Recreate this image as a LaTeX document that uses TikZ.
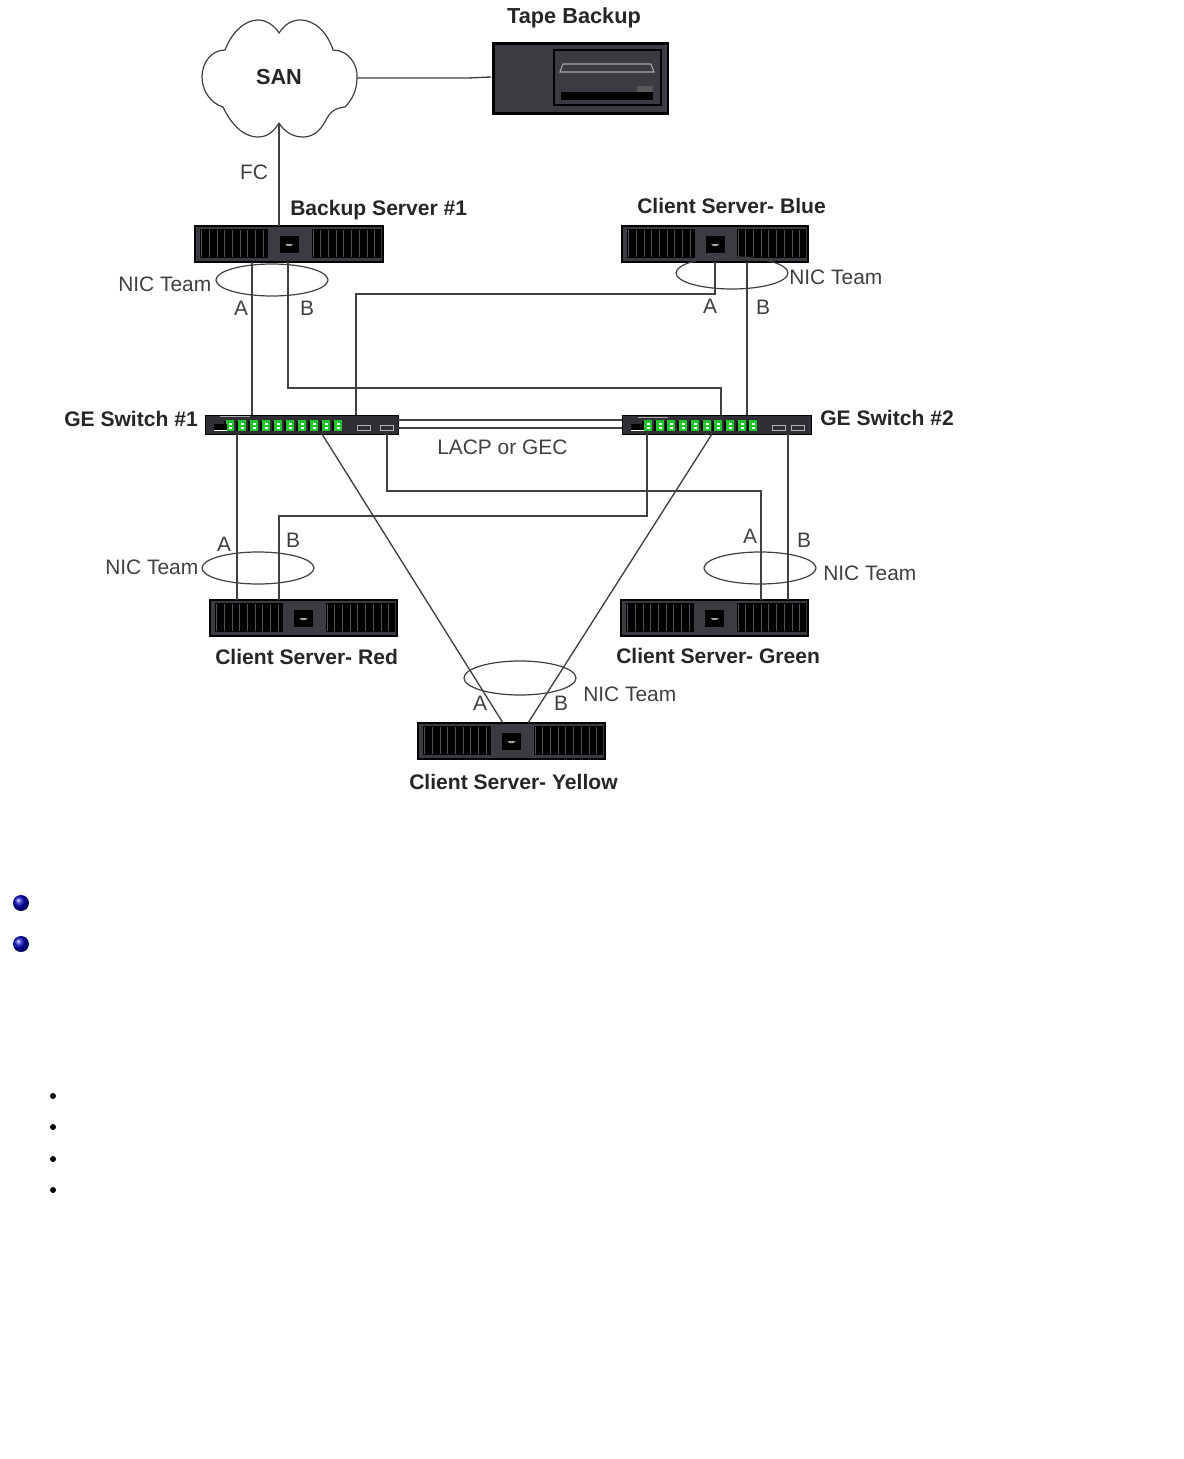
\documentclass[tikz,border=0pt]{standalone}
\usepackage{fontspec}
\setmainfont{Liberation Sans}
\usetikzlibrary{calc,shadings}
\definecolor{chassis}{HTML}{3B3B42}
\definecolor{wire}{HTML}{404040}
\definecolor{labelgray}{HTML}{404040}
\definecolor{portgreen}{HTML}{1FC42F}
\tikzset{
  wirel/.style={draw=wire,line width=1pt},
  serverbox/.style={draw=black,line width=.8pt,fill=chassis,minimum width=141pt,minimum height=27pt,inner sep=0pt,outer sep=0pt},
  switchbox/.style={draw=black,line width=.5pt,fill=chassis!80!black,minimum height=14.2pt,inner sep=0pt,outer sep=0pt},
  bold/.style={font=\fontsize{15.8pt}{18pt}\selectfont\bfseries,text=black!85,inner sep=0pt},
  plain/.style={font=\fontsize{15.7pt}{18pt}\selectfont,text=labelgray,inner sep=0pt},
  team/.style={draw=labelgray,line width=.9pt,fill=none},
  port/.style={fill=portgreen},
}
\newcommand{\srv}[4]{%
  \node[serverbox,minimum width=#4*.75pt,anchor=north west] (#1) at (#2,#3) {};
  \fill[black] ($(#2,#3)+(5,3)$) rectangle ($(#2,#3)+(73,32)$);
  \fill[black] ($(#2,#3)+(#4-71,3)$) rectangle ($(#2,#3)+(#4-2,32)$);
  \foreach \i in {0,...,8}{
    \draw[chassis!90!white,line width=.6pt] ($(#2,#3)+(6.5+\i*7.7,4)$) -- ++(0,27);
    \draw[chassis!90!white,line width=.6pt] ($(#2,#3)+(#4-70+\i*7.7,4)$) -- ++(0,27);
  }
  \fill[black] ($(#2,#3)+(#4/2-9.5,10)$) rectangle ($(#2,#3)+(#4/2+9.5,27)$);
  \fill[gray!70] ($(#2,#3)+(#4/2-4,18)$) -- ++(8,0) -- ++(-2,2) -- ++(-4,0) -- cycle;
}
\newcommand{\swi}[7]{%
  \node[switchbox,minimum width=#3*.75pt,anchor=north west] (#1) at (#2,415) {};
  \foreach \i in {0,...,9}{
    \fill[port] (#4+\i*#5-4,420) rectangle (#4+\i*#5+4,431);
    \fill[black] (#4+\i*#5-6,421) rectangle (#4+\i*#5-4,431);
    \fill[white] (#4+\i*#5-1,423) rectangle (#4+\i*#5+2,425);
    \fill[white] (#4+\i*#5-1,427) rectangle (#4+\i*#5+2,429);
  }
  \draw[gray!60,line width=.5pt] (#6,425) rectangle ++(13,5);
  \draw[gray!60,line width=.5pt] (#7,425) rectangle ++(13,5);
  \fill[black] (#2+9,424) rectangle ++(13,6);
  \fill[white] (#2+9,430) rectangle ++(13,1);
}
\begin{document}
\begin{tikzpicture}[x=.75pt,y=-.75pt]
\useasboundingbox[fill=white] (0,0) rectangle (1184,1459);

% cloud
\draw[draw=labelgray,line width=.9pt,fill=white]
  (279,33) .. controls (285,24) and (292,20) .. (300,20)
  .. controls (316,20) and (328,34) .. (333,50)
  .. controls (348,50) and (358,64) .. (357,78)
  .. controls (357,90) and (352,100) .. (345,107)
  .. controls (335,108) and (330,112) .. (326,120)
  .. controls (320,132) and (312,137) .. (303,137)
  .. controls (292,137) and (284,131) .. (279,123)
  .. controls (274,131) and (268,137) .. (258,137)
  .. controls (242,137) and (230,122) .. (223,107)
  .. controls (210,103) and (202,90) .. (202,77)
  .. controls (202,62) and (212,50) .. (225,50)
  .. controls (232,32) and (245,20) .. (258,20)
  .. controls (266,20) and (274,25) .. (279,33) -- cycle;
\node[bold,font=\fontsize{16.3pt}{18pt}\selectfont\bfseries] (san) at (279,77) {SAN};

% tape
\node[draw=black,line width=2pt,fill=chassis,minimum width=131pt,minimum height=52.5pt,inner sep=0pt,anchor=north west] (tape) at (492,42) {};
\draw[black,line width=1.5pt] (554,50) rectangle (661,105);
\draw[gray!70,line width=.8pt] (560,72) -- (563,64) -- (651,64) -- (654,72) -- cycle;
\fill[black] (561,92) rectangle (653,100);
\fill[black!65] (637,86) rectangle (653,92);
\node[bold,font=\fontsize{16.3pt}{18pt}\selectfont\bfseries] (tapelabel) at (574,18) {Tape Backup};

% servers
\srv{bk}{195}{226}{188}
\srv{blue}{622}{226}{186}
\srv{red}{210}{600}{187}
\srv{green}{621}{600}{187}
\srv{yellow}{418}{723}{187}

% switches
\swi{swa}{205}{193}{230}{12}{357}{380}
\swi{swb}{622}{189}{648}{11.7}{772}{791}
\draw[gray!70,line width=1pt] (220,416.5) -- (250,416.5);
\draw[gray!70,line width=1pt] (638,417.5) -- (668,417.5);

% named port points
\coordinate (sanR) at (357,78);
\coordinate (tapeL) at (491,77);
\coordinate (sanB) at (279,123);
\coordinate (bkTop) at (279,226);
\coordinate (bkA) at (252,262);
\coordinate (bkB) at (288,262);
\coordinate (blueA) at (715,262);
\coordinate (blueB) at (747,262);
\coordinate (a1) at (252,415);
\coordinate (a2) at (356,415);
\coordinate (b1) at (721,415);
\coordinate (b2) at (747,415);
\coordinate (a3) at (237,434);
\coordinate (a4) at (387,434);
\coordinate (a5) at (322,434);
\coordinate (b3) at (647,434);
\coordinate (b4) at (788,434);
\coordinate (b5) at (712,434);
\coordinate (redA) at (237,600);
\coordinate (redB) at (279,600);
\coordinate (greenA) at (761,600);
\coordinate (greenB) at (788,600);
\coordinate (yelA) at (503,723);
\coordinate (yelB) at (528,723);

% connectors
\draw[wirel] (sanB) -- (bkTop);
\draw[wirel] (sanR) -- (468,78) -- (tapeL);
\draw[wirel] (bkA) -- (a1);
\draw[wirel] (bkB) -- (288,388) -- (721,388) -- (b1);
\draw[wirel] (blueA) -- (715,294) -- (356,294) -- (a2);
\draw[wirel] (blueB) -- (b2);
\draw[wirel] (a3) -- (redA);
\draw[wirel] (a4) -- (387,491) -- (761,491) -- (greenA);
\draw[wirel] (a5) -- (yelA);
\draw[wirel] (b3) -- (647,516) -- (279,516) -- (redB);
\draw[wirel] (b4) -- (greenB);
\draw[wirel] (b5) -- (yelB);
\draw[wirel] (swa.east |- 0,420) -- (swb.west |- 0,420);
\draw[wirel] (swa.east |- 0,428) -- (swb.west |- 0,428);

% NIC team ellipses
\draw[team] (272,280) ellipse [x radius=56,y radius=16];
\draw[team] (732,273) ellipse [x radius=56,y radius=16];
\draw[team] (258,568) ellipse [x radius=56,y radius=16];
\draw[team] (760,568) ellipse [x radius=56,y radius=16];
\draw[team] (520,678) ellipse [x radius=56,y radius=17];

% labels
\node[bold,anchor=west] (l1) at (290,210) {Backup Server \#1};
\node[bold,anchor=west] (l2) at (637,206) {Client Server- Blue};
\node[bold,anchor=west] (l3) at (64,419) {GE Switch \#1};
\node[bold,anchor=west] (l4) at (820,418) {GE Switch \#2};
\node[bold,anchor=west] (l5) at (215,657) {Client Server- Red};
\node[bold,anchor=west] (l6) at (616,656) {Client Server- Green};
\node[bold,anchor=west] (l7) at (409,782) {Client Server- Yellow};
\node[plain] (fc) at (254,172) {FC};
\node[plain,anchor=west] (t1) at (118,284) {NIC Team};
\node[plain,anchor=west] (t2) at (789,277) {NIC Team};
\node[plain,anchor=west] (t3) at (105,567) {NIC Team};
\node[plain,anchor=west] (t4) at (823,573) {NIC Team};
\node[plain,anchor=west] (t5) at (583,694) {NIC Team};
\node[plain,anchor=west] (lacp) at (437,447) {LACP or GEC};
\node[plain] (p1) at (241,308) {A};
\node[plain] (p2) at (307,308) {B};
\node[plain] (p3) at (710,306) {A};
\node[plain] (p4) at (763,307) {B};
\node[plain] (p5) at (224,544) {A};
\node[plain] (p6) at (293,540) {B};
\node[plain] (p7) at (750,536) {A};
\node[plain] (p8) at (804,540) {B};
\node[plain] (p9) at (480,703) {A};
\node[plain] (p10) at (561,703) {B};

% bullets
\shade[ball color=blue!75!black] (21,903) circle (8);
\shade[ball color=blue!75!black] (21,944) circle (8);
\foreach \y in {1096,1127,1159,1190} \fill[black] (53,\y) circle (3);
\end{tikzpicture}
\end{document}
